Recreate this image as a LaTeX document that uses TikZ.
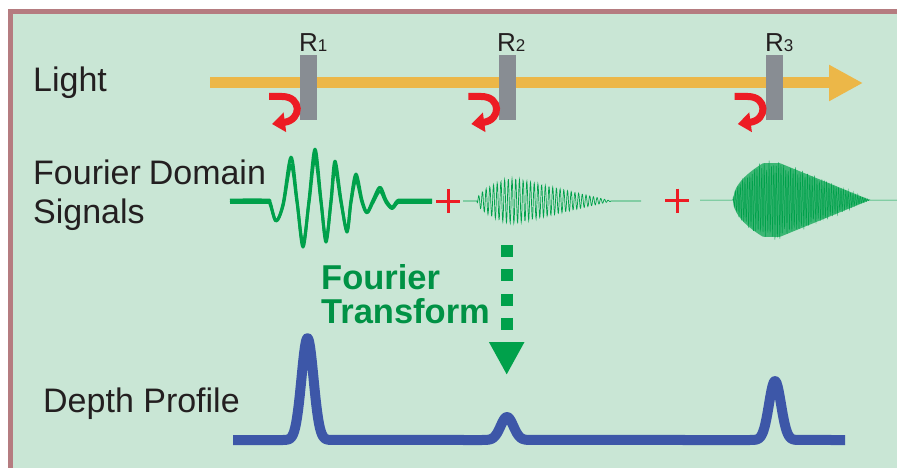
\documentclass[tikz,border=0pt]{standalone}
\usepackage{fontspec}
\setmainfont{Liberation Sans}
\usetikzlibrary{arrows.meta}
\definecolor{bgG}{RGB}{201,230,213}
\definecolor{frameC}{RGB}{181,124,128}
\definecolor{rayC}{RGB}{236,183,72}
\definecolor{barC}{RGB}{136,141,147}
\definecolor{redC}{RGB}{237,28,36}
\definecolor{sigC}{RGB}{0,161,75}
\definecolor{ftC}{RGB}{0,146,69}
\definecolor{blueC}{RGB}{61,87,168}
\definecolor{txtC}{RGB}{35,31,32}
\begin{document}
\begin{tikzpicture}[x=1pt,y=-1pt,
  declare function={
    envC(\x)=40*min(1,sqrt(max(0,(\x-733)/30)))*min(1,max(0,(870-\x)/90));
    envB(\x)=22*min(1,sqrt(max(0,(\x-477)/30)))*min(1,max(0,(612-\x)/95));
  },
  lbl/.style={inner sep=0pt, text=txtC, font=\fontsize{34}{39}\selectfont},
  ftlbl/.style={inner sep=0pt, text=ftC, font=\fontsize{34.5}{34}\selectfont\bfseries},
  rlbl/.style={inner sep=0pt, text=txtC, font=\fontsize{26}{30}\selectfont},
  mirror/.style={fill=barC, draw=none, minimum width=17pt, minimum height=65pt, inner sep=0pt},
  lightray/.style={draw=rayC, line width=11pt, -{Triangle[length=34pt,width=34pt]}},
  refl/.style={draw=redC, line width=7pt, -{Triangle[length=13pt,width=19pt]}},
  plusC/.style={draw=redC, line width=3pt},
  sigA/.style={draw=sigC, line width=3pt, line join=round},
  sigB/.style={draw=sigC, line width=0.7pt},
  sigD/.style={draw=sigC, line width=0.5pt},
  ftarrow/.style={draw=sigC, line width=12pt, dash pattern=on 12pt off 12.25pt, -{Triangle[length=33pt,width=33pt]}},
  depthline/.style={draw=blueC, line width=10pt, line join=round}
]
\useasboundingbox (0,0) rectangle (897,468);
\clip (0,0) rectangle (897,468);
\fill[white] (0,0) rectangle (897,468);
\draw[line width=5pt, draw=frameC, fill=bgG] (10.5,11.5) rectangle (930,500);

% labels
\node[lbl, anchor=base west] (light) at (33,92) {Light};
\node[lbl, anchor=base west] (fds1) at (33,184) {Fourier\hspace{-1.5pt} Domain};
\node[lbl, anchor=base west] (fds2) at (33,223) {Signals};
\node[lbl, anchor=base west] (depth) at (43,412) {Depth Profile};
\node[ftlbl, anchor=base west] (ft1) at (321,289) {Fourier};
\node[ftlbl, anchor=base west] (ft2) at (321,323) {Transform};

% light ray
\coordinate (ls) at (210,83);
\coordinate (le) at (863,83);
\draw[lightray] (ls) -- (le);

% mirrors
\node[mirror] (m1) at (308.5,87.5) {};
\node[mirror] (m2) at (507.8,87.5) {};
\node[mirror] (m3) at (774.2,87.5) {};
\node[rlbl, anchor=base west] (r1) at (299,52) {R{\fontsize{17}{17}\selectfont 1}};
\node[rlbl, anchor=base west] (r2) at (497,52) {R{\fontsize{17}{17}\selectfont 2}};
\node[rlbl, anchor=base west] (r3) at (765,52) {R{\fontsize{17}{17}\selectfont 3}};

% reflections
\foreach \bx in {300,499.3,765.7}{
  \draw[refl] ({\bx-31},96.5) -- ({\bx-18},96.5) .. controls ({\bx+2},96.5) and ({\bx+2},120) .. ({\bx-28},124);
}

% signal 1 (double line)
\foreach \s/\o in {1/-0.9, 0.87/1.4}{
\begin{scope}[shift={(0,201+\o)}, yscale=\s]
\draw[sigA] plot[smooth, tension=0.55] coordinates {(230,0) (266,0) (270,2) (276,21) (283,4) (291,-43) (297,0) (303,47) (309,0) (315,-51) (321,0) (326,42) (331,0) (335,-39) (341,0) (347,32) (351,0) (356,-26) (362,0) (367,12) (373,0) (380,-13) (386,0) (392,7) (397,1) (402,0) (432,0)};
\end{scope}
}

% plus signs
\draw[plusC] (436,201) -- (460,201) (448,189) -- (448,213);
\draw[plusC] (665,200.5) -- (689,200.5) (677,188.5) -- (677,212.5);

% signal 2
\draw[sigB] plot[domain=463:641, samples=600] (\x,{201 - envB(\x)*sin(mod(\x-463,37)*97.3)});

% signal 3
\fill[sigC!70!bgG] plot[domain=733:870, samples=80] (\x,{200-0.92*envC(\x)}) -- plot[domain=870:733, samples=80] (\x,{200+0.92*envC(\x)}) -- cycle;
\draw[sigD] plot[domain=700:897, samples=800] (\x,{200 + envC(\x)*sin(mod(\x-700,12)*150)*(0.75+0.25*rnd)});

% Fourier transform arrow
\coordinate (fts) at (506.7,245);
\coordinate (fte) at (506.7,375);
\draw[ftarrow] (fts) -- (fte);

% depth profile
\draw[depthline] (233,440) -- (283,440)
  -- plot[domain=283:332, samples=50] (\x,{440-102*exp(-((\x-307.5)/8.5)^2)})
  -- (482,440)
  -- plot[domain=482:532, samples=50] (\x,{440-23*exp(-((\x-507)/9)^2)})
  -- (750,440)
  -- plot[domain=750:800, samples=50] (\x,{440-59*exp(-((\x-775)/8.5)^2)})
  -- (845,440);
\end{tikzpicture}
\end{document}
